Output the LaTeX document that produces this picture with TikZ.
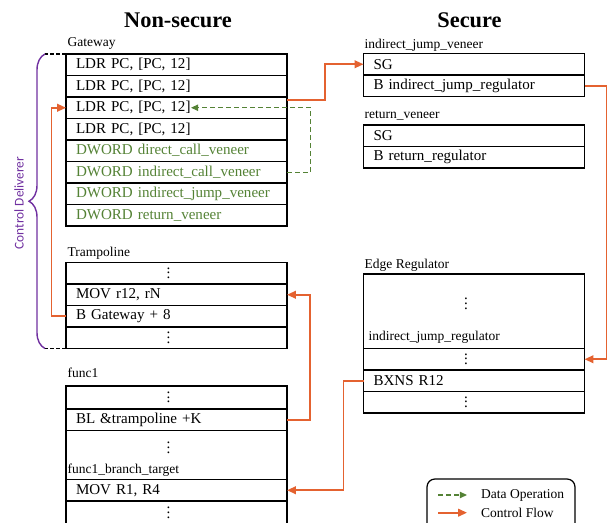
\documentclass[tikz,border=0pt]{standalone}
\usepackage{fontspec}
\setmainfont{Liberation Serif}
\newfontfamily\bracefont{Carlito}
\usetikzlibrary{arrows.meta, decorations.pathreplacing, calc}

\definecolor{ctrlorange}{RGB}{228,98,48}
\definecolor{datagreen}{RGB}{84,130,53}
\definecolor{bracepurple}{RGB}{112,48,160}

\newcommand{\rowdots}{\vbox{\baselineskip3.4pt\lineskiplimit0pt\hbox{.}\hbox{.}\hbox{.}}}

\tikzset{
    row/.style={draw, line width=0.9pt, anchor=north west, outer sep=0pt, inner xsep=0.25cm, inner ysep=0pt, text width=5.025cm, align=left, minimum height=0.5375cm, font=\fontsize{10.7}{12}\selectfont},
    dotrow/.style={row, align=center},
    blocklabel/.style={anchor=west, inner sep=1pt, font=\fontsize{9.6}{11}\selectfont},
    title/.style={font=\fontsize{15.9}{18}\selectfont\bfseries},
    ctrl/.style={draw=ctrlorange, line width=1.2pt, -{Triangle[length=0.22cm,width=0.19cm]}},
    data/.style={draw=datagreen, line width=0.85pt, dash pattern=on 0.12cm off 0.08cm, -{Triangle[length=0.18cm,width=0.16cm]}},
}

\begin{document}
\begin{tikzpicture}[x=0.025cm, y=-0.025cm]
    \useasboundingbox (0,0) rectangle (614,523);
    \clip (0,0) rectangle (614,523);
    \node[title] (nstitle) at (178,20) {Non-secure};
    \node[title] (stitle) at (469.5,20) {Secure};
    % non-secure side
    \node[blocklabel] (gwlabel) at (66,43) {Gateway};
    \node[row] (g1) at (66,54) {LDR PC, [PC, 12]};
    \node[row] (g2) at (66,75.5) {LDR PC, [PC, 12]};
    \node[row] (g3) at (66,97) {LDR PC, [PC, 12]};
    \node[row] (g4) at (66,118.5) {LDR PC, [PC, 12]};
    \node[row, text=datagreen] (g5) at (66,140) {DWORD direct\_call\_veneer};
    \node[row, text=datagreen] (g6) at (66,161.5) {DWORD indirect\_call\_veneer};
    \node[row, text=datagreen] (g7) at (66,183) {DWORD indirect\_jump\_veneer};
    \node[row, text=datagreen] (g8) at (66,204.5) {DWORD return\_veneer};
    \node[blocklabel] (tplabel) at (66,253.3) {Trampoline};
    \node[dotrow] (t1) at (66,262.5) {\hspace*{-0.4cm}\rowdots};
    \node[row] (t2) at (66,284) {MOV r12, rN};
    \node[row] (t3) at (66,305.5) {B Gateway + 8};
    \node[dotrow] (t4) at (66,327) {\hspace*{-0.4cm}\rowdots};
    \node[blocklabel] (fnlabel) at (66,373.3) {func1};
    \node[dotrow, minimum height=0.575cm] (f1) at (66,386) {\hspace*{-0.4cm}\rowdots};
    \node[row] (f2) at (66,409) {BL \&trampoline +K};
    \node[row, minimum height=1.225cm] (f3) at (66,430.5) {};
    \node[font=\fontsize{10.7}{12}\selectfont] (f3dots) at (168.5,448) {\rowdots};
    \node[blocklabel] (f3label) at (66,470.7) {func1\_branch\_target};
    \node[row] (f4) at (66,479.5) {MOV R1, R4};
    \node[dotrow, minimum height=0.6cm] (f5) at (66,501) {\hspace*{-0.4cm}\rowdots};
    % secure side
    \node[blocklabel] (ijvlabel) at (363,45) {indirect\_jump\_veneer};
    \node[row] (ijv1) at (363.5,53.5) {SG};
    \node[row] (ijv2) at (363.5,75) {B indirect\_jump\_regulator};
    \node[blocklabel] (rvlabel) at (363,116) {return\_veneer};
    \node[row] (rv1) at (363.5,125) {SG};
    \node[row] (rv2) at (363.5,146.5) {B return\_regulator};
    \node[blocklabel] (erlabel) at (363,265) {Edge Regulator};
    \node[row, minimum height=1.8625cm] (er1) at (363.5,274) {};
    \node[font=\fontsize{10.7}{12}\selectfont] (er1dots) at (466,304) {\rowdots};
    \node[blocklabel] (er1label) at (367,337.3) {indirect\_jump\_regulator};
    \node[dotrow] (er2) at (363.5,348.5) {\hspace*{-0.4cm}\rowdots};
    \node[row] (er3) at (363.5,370) {BXNS R12};
    \node[dotrow] (er4) at (363.5,391.5) {\hspace*{-0.4cm}\rowdots};
    % flows
    \draw[ctrl] ([yshift=-2pt]g3.north east) -- ++(38,0) |- (ijv1.west);
    \draw[ctrl] (ijv2.east) -- ++(22,0) |- (er2.east);
    \draw[ctrl] (er3.west) -- ++(-20,0) |- (f4.east);
    \draw[ctrl] (f2.east) -- ++(23,0) |- (t2.east);
    \draw[ctrl] (t3.west) -- ++(-14.5,0) |- (g3.west);
    \coordinate (ldrend) at ($(g3.west)+(125,0)$);
    \draw[data] (g6.east) -- ++(23.5,0) |- (ldrend);
    % control deliverer brace
    \coordinate (bracetop) at ($(g1.north west)+(-21,0)$);
    \coordinate (bracebot) at ($(t4.south west)+(-21,0)$);
    \draw[line width=1pt, dash pattern=on 0.1cm off 0.05cm] (g1.north west) -- (bracetop);
    \draw[line width=1pt, dash pattern=on 0.1cm off 0.05cm] (t4.south west) -- (bracebot);
    \draw[bracepurple, line width=1pt, decorate, decoration={brace, amplitude=0.4cm}] (bracebot) -- (bracetop);
    \node[rotate=90, text=bracepurple, font=\bracefont\fontsize{9.5}{11}\selectfont] (deliverer) at (19,203) {Control Deliverer};
    % legend
    \draw[line width=0.9pt, rounded corners=0.2cm] (427,479) rectangle (575,540);
    \coordinate (dstart) at (438,495);
    \coordinate (dend) at (467,495);
    \draw[data] (dstart) -- (dend);
    \node[blocklabel] (datatext) at (479.5,495) {Data Operation};
    \coordinate (cstart) at (438,512.7);
    \coordinate (cend) at (467,512.7);
    \draw[ctrl] (cstart) -- (cend);
    \node[blocklabel] (ctrltext) at (479.5,512.7) {Control Flow};
\end{tikzpicture}
\end{document}
